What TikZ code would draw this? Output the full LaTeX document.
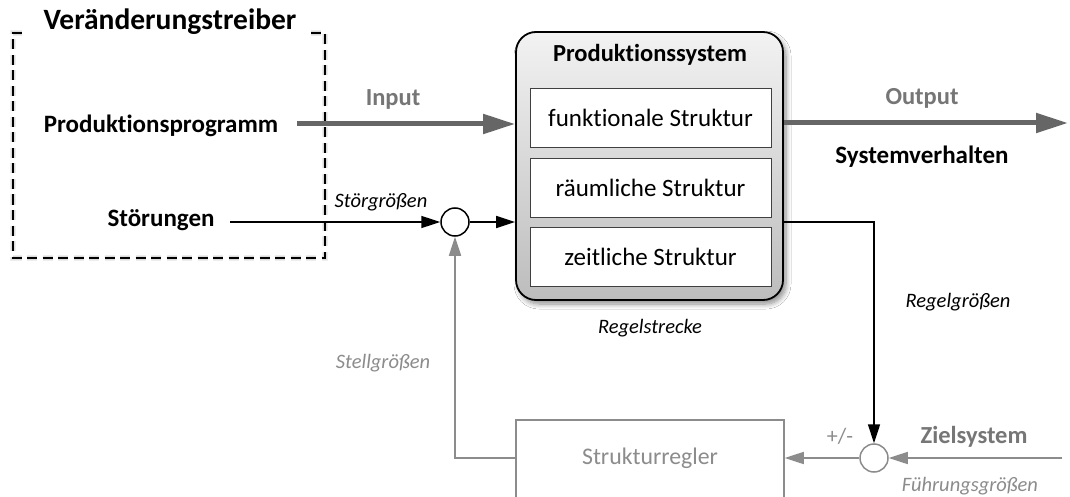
\documentclass[tikz,border=0pt]{standalone}
\usepackage{fontspec}
\setmainfont{Carlito}[Ligatures=NoCommon]
\usetikzlibrary{arrows.meta,shadows.blur,calc}
\definecolor{flowgray}{RGB}{102,102,102}
\definecolor{ctrlgray}{RGB}{140,140,140}
\definecolor{labelgray}{RGB}{118,118,118}
\tikzset{
  bigtitle/.style={font=\bfseries\fontsize{29.5}{32}\selectfont, inner sep=2pt},
  boldlbl/.style={font=\bfseries\fontsize{25}{28}\selectfont, inner sep=2pt},
  graybold/.style={font=\bfseries\fontsize{24.5}{27}\selectfont, inner sep=2pt, text=labelgray},
  itlbl/.style={font=\itshape\fontsize{20.5}{23}\selectfont, inner sep=1pt},
  grayit/.style={itlbl, text=ctrlgray},
  structbox/.style={draw=black!75, line width=0.9pt, fill=white, minimum width=241, minimum height=59,
    font=\fontsize{25}{28}\selectfont},
  psysbox/.style={draw=black, line width=1.8pt, rounded corners=20, minimum width=267, minimum height=268,
    top color=black!5, bottom color=black!26,
    blur shadow={shadow xshift=3pt, shadow yshift=-4pt, shadow blur steps=8, shadow opacity=45, shadow blur radius=5pt}},
  junction/.style={circle, draw=black, line width=1.5pt, fill=white, minimum size=28, inner sep=0pt},
  gjunction/.style={junction, draw=ctrlgray},
  ctrlbox/.style={draw=ctrlgray, line width=1.5pt, minimum width=268, minimum height=100},
  bigflow/.style={draw=flowgray, line width=5pt, -{Triangle[length=32pt,width=19pt]}},
  sigarrow/.style={draw=black, line width=1.6pt, -{Triangle[length=19pt,width=12pt]}},
  ctrlarrow/.style={draw=ctrlgray, line width=1.7pt, -{Triangle[length=19pt,width=12pt]}},
  frame/.style={draw=black, line width=1.5pt, dash pattern=on 10pt off 5.5pt},
  frameshadow/.style={draw=black, dash pattern=on 10pt off 5.5pt, opacity=0.07},
}
\begin{document}
\begin{tikzpicture}[x=1pt, y=-1pt]
\clip (0,0) rectangle (1070,497);
\fill[white] (0,0) rectangle (1070,497);

% driver frame: dashed outline, soft shadow, heading in a gap of the top edge
\coordinate (ftl) at (13,33);
\coordinate (fbr) at (325,258);
\coordinate (gapl) at (22,33);
\coordinate (gapr) at (311,33);
\foreach \d/\w in {2/6,3/4,3.5/2} {
  \draw[frameshadow, line width=\w pt, shift={(\d,\d)}]
    (gapl) -- (ftl) -- (ftl |- fbr) -- (fbr) -- (fbr |- ftl) -- (gapr);
}
\draw[frame] (gapl) -- (ftl) -- (ftl |- fbr) -- (fbr) -- (fbr |- ftl) -- (gapr);

\node[bigtitle] (vt) at (170,22) {Veränderungstreiber};
\node[boldlbl] (pp) at (161,126) {Produktionsprogramm};
\node[boldlbl] (st) at (161,220) {Störungen};

% production system with its three structures
\node[psysbox] (ps) at (649.5,166) {};
\node[boldlbl, font=\bfseries\fontsize{24.5}{27}\selectfont] (pst) at (650,55) {Produktionssystem};
\node[structbox] (f1) at (650.5,117.5) {funktionale Struktur};
\node[structbox] (f2) at (650.5,187.5) {räumliche Struktur};
\node[structbox] (f3) at (650.5,257) {zeitliche Struktur};
\node[itlbl] (rs) at (650,328) {Regelstrecke};

% input / output flow
\coordinate (instart) at (297,124);
\coordinate (outend) at (1068,123);
\draw[bigflow] (instart) -- (instart -| ps.west);
\node[graybold] (in) at (393,99) {Input};
\draw[bigflow] (ps.east |- outend) -- (outend);
\node[graybold] (out) at (922,98) {Output};
\node[boldlbl] (sv) at (922,157) {Systemverhalten};

% disturbance path
\node[junction] (c1) at (455,222) {};
\coordinate (ststart) at (230,222);
\draw[sigarrow] (ststart) -- (c1.west);
\node[itlbl] (sg) at (381,202) {Störgrößen};
\draw[sigarrow] (c1.east) -- (ps.west |- c1);

% feedback loop
\node[gjunction] (c2) at (874,458) {};
\draw[sigarrow] (ps.east |- c1) -| (c2.north);
\node[itlbl] (rg) at (958,302) {Regelgrößen};
\coordinate (zs) at (1062,458);
\draw[ctrlarrow] (zs) -- (c2.east);
\node[graybold] (ziel) at (974,437) {Zielsystem};
\node[grayit] (fg) at (970,486) {Führungsgrößen};
\node[text=ctrlgray, font=\fontsize{22}{24}\selectfont] (pm) at (840,436) {+/-};

\node[ctrlbox] (sr) at (650,470) {};
\node[text=ctrlgray, font=\fontsize{23.8}{26}\selectfont] (srl) at (650,458) {Strukturregler};
\draw[ctrlarrow] (c2.west) -- (sr.east |- c2);
\draw[ctrlarrow] (sr.west |- c2) -| (c1.south);
\node[grayit] (stg) at (383,363) {Stellgrößen};
\end{tikzpicture}
\end{document}
